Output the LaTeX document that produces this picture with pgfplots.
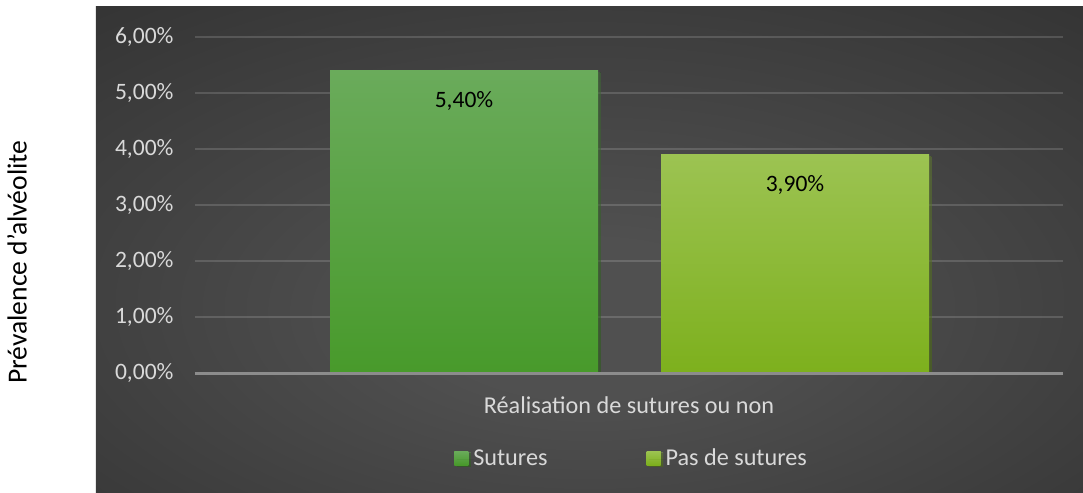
\documentclass[border=0pt]{standalone}
\usepackage{fontspec}
\setmainfont{Carlito}
\usepackage{pgfplots}
\pgfplotsset{compat=1.18}
\definecolor{bgin}{HTML}{505050}
\definecolor{bgmid}{HTML}{2A2A2A}
\definecolor{bgout}{HTML}{1E1E1E}
\definecolor{gAtop}{HTML}{6AAB5B}
\definecolor{gAbot}{HTML}{489A2B}
\definecolor{gBtop}{HTML}{9CC352}
\definecolor{gBbot}{HTML}{7DB01D}
\definecolor{txt}{HTML}{D9D9D9}
\definecolor{axln}{HTML}{8C8C8C}
\pgfdeclareradialshading{bgshade}{\pgfpoint{0bp}{-8bp}}{color(0bp)=(bgin); color(8bp)=(bgin); color(50bp)=(bgmid); color(75bp)=(bgout)}
\newcommand{\fs}{\fontsize{23.5bp}{28bp}\selectfont}
\newcommand{\fl}{\fontsize{24.2bp}{29bp}\selectfont}
\begin{document}
\begin{tikzpicture}
\path[use as bounding box] (-195bp,-120bp) rectangle (888bp,373bp);
\shade[shading=bgshade] (-99bp,-120bp) rectangle (888bp,366bp);
\begin{axis}[
  scale only axis, width=868bp, height=336bp,
  xmin=0, xmax=868, ymin=0, ymax=6,
  clip=false,
  ytick={0,1,2,3,4,5,6},
  yticklabels={{0,00\%},{1,00\%},{2,00\%},{3,00\%},{4,00\%},{5,00\%},{6,00\%}},
  xtick=\empty,
  axis line style={draw=none},
  major tick length=0pt,
  ymajorgrids, grid style={white, opacity=0.15, line width=1.2bp},
  yticklabel style={font=\fs, text=txt, xshift=-18bp},
  xlabel={Réalisation de sutures ou non},
  xlabel style={at={(axis description cs:0.5,-0.095)}, anchor=center, font=\fl, text=txt},
  ylabel={Prévalence d’alvéolite},
  ylabel style={at={(axis description cs:-0.205,0.33)}, anchor=center, font=\fontsize{27.6bp}{33bp}\selectfont, text=black},
  legend columns=2,
  legend style={draw=none, fill=none, at={(0.5030,-0.253)}, anchor=center, font=\fl, text=txt,
    /tikz/every even column/.append style={column sep=97bp}},
  point meta=explicit symbolic,
  nodes near coords,
  nodes near coords style={anchor=north, yshift=-17.5bp, font=\fs, text=black},
]
\addplot[ybar, bar width=268, bar shift=0pt, draw=none,
  preaction={fill=black, opacity=0.35, transform canvas={xshift=2.5bp, yshift=-1.5bp}},
  top color=gAtop, bottom color=gAbot,
  legend image code/.code={\fill[gAbot] (0bp,-7bp) rectangle (14bp,7bp); \path (0bp,0bp) -- (17bp,0bp);}]
  coordinates {(269,5.4) [5,40\%]};
\addlegendentry{Sutures}
\addplot[ybar, bar width=268, bar shift=0pt, draw=none,
  preaction={fill=black, opacity=0.35, transform canvas={xshift=2.5bp, yshift=-1.5bp}},
  top color=gBtop, bottom color=gBbot,
  legend image code/.code={\fill[gBbot!85!gBtop] (0bp,-7bp) rectangle (14bp,7bp); \path (0bp,0bp) -- (17bp,0bp);}]
  coordinates {(600,3.9) [3,90\%]};
\addlegendentry{Pas de sutures}
\draw[axln, line width=3bp] (axis cs:0,0) -- (axis cs:868,0);
\end{axis}
\end{tikzpicture}
\end{document}
